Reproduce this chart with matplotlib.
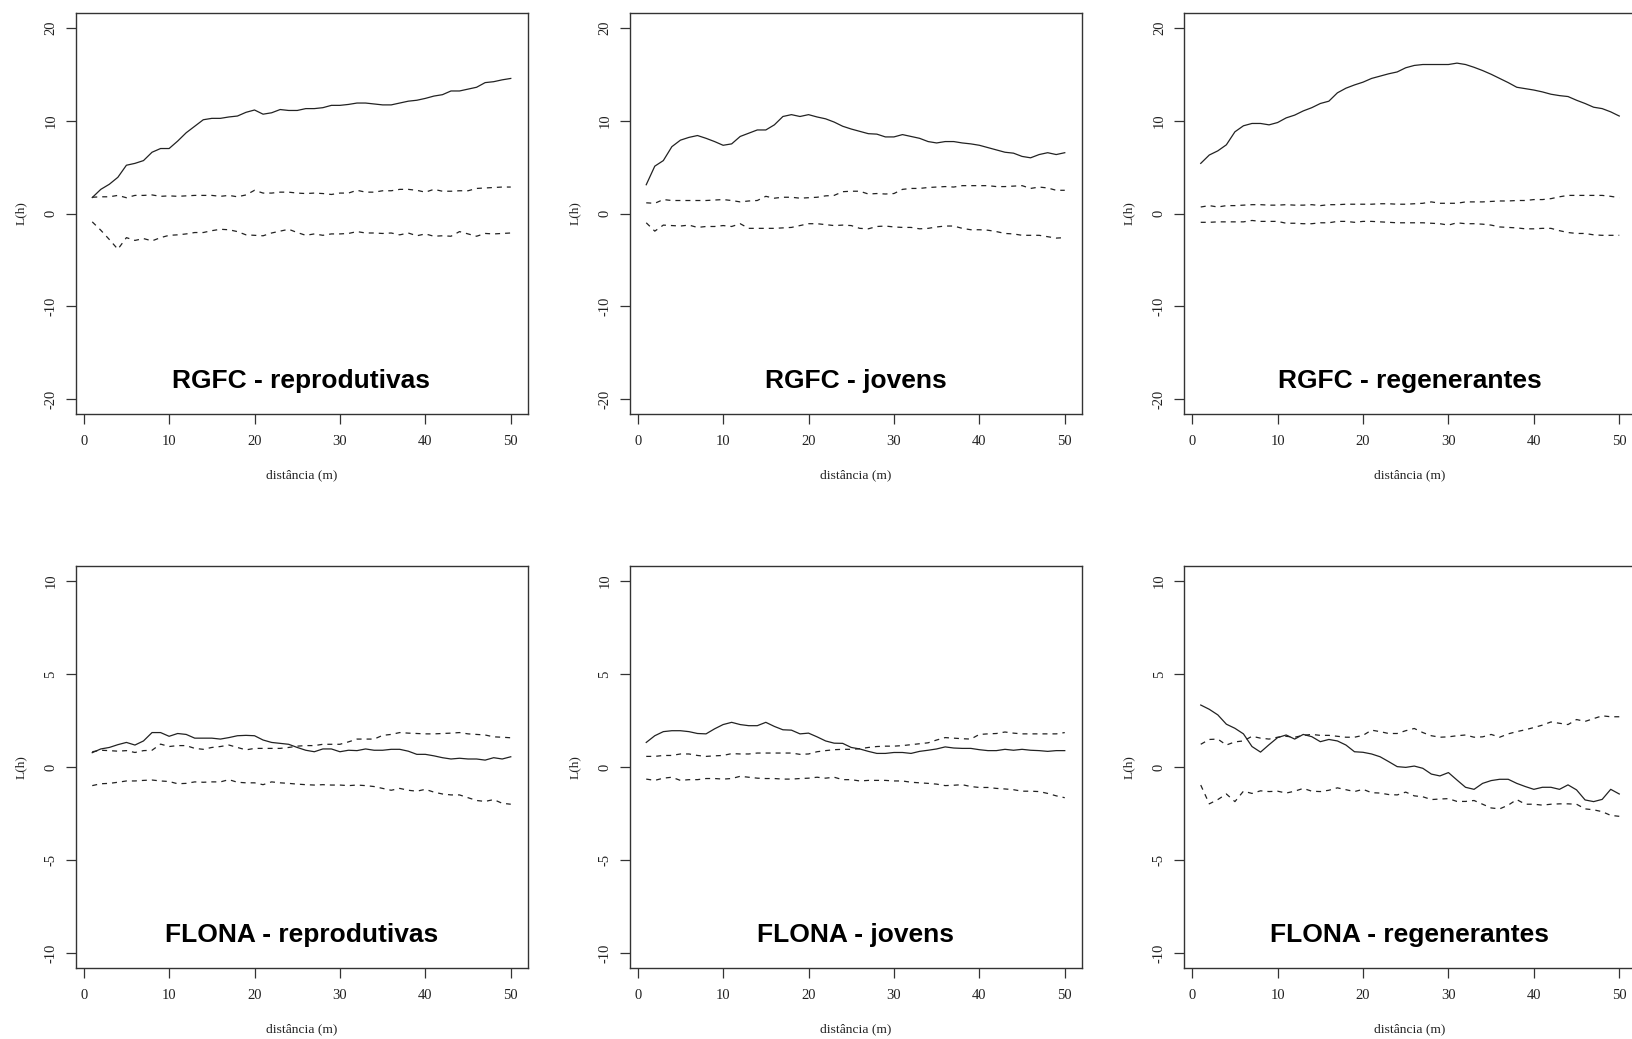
import numpy as np
import matplotlib
matplotlib.use("Agg")
import matplotlib.pyplot as plt

plt.rcParams["axes.unicode_minus"] = False

# distance (m)
dist = list(range(1, 51))

# RGFC - reprodutivas
rgfc_rep_obs = [1.72, 2.6, 3.15, 3.9, 5.2, 5.4, 5.7, 6.6, 7.0, 7.0,
                7.8, 8.7, 9.4, 10.1, 10.25, 10.25, 10.4, 10.5, 10.9, 11.15,
                10.7, 10.85, 11.2, 11.1, 11.1, 11.3, 11.3, 11.4, 11.65, 11.65,
                11.75, 11.9, 11.9, 11.8, 11.7, 11.7, 11.9, 12.1, 12.2, 12.4,
                12.65, 12.8, 13.2, 13.2, 13.4, 13.6, 14.1, 14.2, 14.4, 14.55]
rgfc_rep_hi = [1.75, 1.8, 1.8, 1.95, 1.7, 1.95, 1.95, 2.0, 1.85, 1.9,
               1.85, 1.9, 1.95, 1.95, 1.95, 1.85, 1.95, 1.8, 2.0, 2.5,
               2.2, 2.2, 2.3, 2.3, 2.2, 2.15, 2.2, 2.15, 2.05, 2.2,
               2.2, 2.5, 2.3, 2.3, 2.45, 2.45, 2.6, 2.6, 2.5, 2.3,
               2.6, 2.4, 2.4, 2.45, 2.45, 2.7, 2.75, 2.8, 2.85, 2.85]
rgfc_rep_lo = [-0.9, -1.8, -2.8, -3.85, -2.6, -2.9, -2.7, -2.95, -2.6, -2.35,
               -2.3, -2.2, -2.05, -2.05, -1.85, -1.7, -1.75, -1.95, -2.3, -2.35,
               -2.4, -2.1, -1.9, -1.7, -2.05, -2.35, -2.2, -2.35, -2.2, -2.2,
               -2.15, -1.95, -2.1, -2.1, -2.15, -2.1, -2.3, -2.1, -2.4, -2.2,
               -2.45, -2.4, -2.45, -1.95, -2.2, -2.45, -2.15, -2.2, -2.15, -2.1]

# RGFC - jovens
rgfc_jov_obs = [3.1, 5.1, 5.7, 7.2, 7.9, 8.2, 8.4, 8.1, 7.75, 7.35,
                7.5, 8.3, 8.65, 9.0, 9.0, 9.55, 10.45, 10.65, 10.45, 10.65,
                10.4, 10.2, 9.85, 9.4, 9.1, 8.85, 8.6, 8.55, 8.25, 8.25,
                8.5, 8.3, 8.1, 7.75, 7.6, 7.75, 7.75, 7.6, 7.5, 7.35,
                7.1, 6.85, 6.6, 6.5, 6.15, 6.0, 6.35, 6.55, 6.35, 6.55]
rgfc_jov_hi = [1.15, 1.1, 1.5, 1.4, 1.4, 1.4, 1.4, 1.4, 1.45, 1.5,
               1.4, 1.25, 1.35, 1.4, 1.85, 1.65, 1.75, 1.75, 1.65, 1.7,
               1.75, 1.9, 1.95, 2.35, 2.4, 2.4, 2.1, 2.15, 2.1, 2.15,
               2.6, 2.7, 2.7, 2.8, 2.85, 2.9, 2.85, 3.0, 3.0, 3.0,
               3.0, 2.9, 2.9, 2.95, 3.0, 2.7, 2.85, 2.75, 2.5, 2.5]
rgfc_jov_lo = [-1.0, -1.9, -1.25, -1.3, -1.35, -1.25, -1.5, -1.4, -1.4, -1.3,
               -1.4, -1.1, -1.6, -1.6, -1.6, -1.6, -1.55, -1.5, -1.3, -1.1,
               -1.1, -1.2, -1.3, -1.25, -1.3, -1.6, -1.65, -1.4, -1.35, -1.45,
               -1.5, -1.5, -1.65, -1.6, -1.45, -1.35, -1.35, -1.6, -1.75, -1.75,
               -1.8, -1.95, -2.15, -2.2, -2.35, -2.35, -2.35, -2.5, -2.65, -2.6]

# RGFC - regenerantes
rgfc_reg_obs = [5.4, 6.3, 6.75, 7.4, 8.8, 9.45, 9.7, 9.7, 9.55, 9.8,
                10.3, 10.6, 11.05, 11.4, 11.85, 12.1, 13.0, 13.5, 13.85, 14.15,
                14.55, 14.8, 15.05, 15.25, 15.7, 15.95, 16.05, 16.05, 16.05, 16.05,
                16.2, 16.05, 15.75, 15.4, 15.0, 14.55, 14.1, 13.6, 13.45, 13.3,
                13.1, 12.85, 12.7, 12.6, 12.2, 11.85, 11.45, 11.3, 10.95, 10.5]
rgfc_reg_hi = [0.7, 0.85, 0.7, 0.85, 0.85, 0.9, 0.95, 0.95, 0.9, 0.9,
               0.95, 0.9, 0.9, 0.95, 0.85, 0.95, 0.95, 1.0, 1.0, 1.0,
               1.0, 1.05, 1.05, 1.0, 1.0, 1.05, 1.1, 1.25, 1.1, 1.1,
               1.1, 1.25, 1.25, 1.25, 1.3, 1.35, 1.35, 1.4, 1.4, 1.5,
               1.5, 1.6, 1.8, 1.95, 1.95, 1.95, 1.95, 1.95, 1.85, 1.7]
rgfc_reg_lo = [-0.95, -0.95, -0.9, -0.9, -0.9, -0.9, -0.75, -0.85, -0.85, -0.85,
               -1.05, -1.05, -1.1, -1.1, -1.0, -1.0, -0.85, -0.85, -0.95, -0.85,
               -0.85, -0.9, -0.95, -1.0, -1.0, -1.0, -1.0, -1.05, -1.1, -1.25,
               -1.0, -1.1, -1.1, -1.15, -1.25, -1.45, -1.5, -1.55, -1.65, -1.65,
               -1.6, -1.6, -1.85, -2.05, -2.15, -2.15, -2.3, -2.35, -2.35, -2.35]

# FLONA - reprodutivas
flona_rep_obs = [0.77, 0.97, 1.05, 1.2, 1.32, 1.18, 1.4, 1.85, 1.85, 1.65,
                 1.8, 1.75, 1.55, 1.55, 1.55, 1.5, 1.58, 1.68, 1.7, 1.68,
                 1.45, 1.32, 1.27, 1.22, 1.05, 0.9, 0.82, 0.97, 0.97, 0.82,
                 0.9, 0.88, 0.97, 0.9, 0.9, 0.95, 0.95, 0.85, 0.68, 0.68,
                 0.6, 0.5, 0.43, 0.47, 0.43, 0.43, 0.37, 0.5, 0.43, 0.55]
flona_rep_hi = [0.82, 0.9, 0.88, 0.85, 0.88, 0.78, 0.88, 0.9, 1.23, 1.1,
                1.15, 1.15, 1.0, 0.95, 1.05, 1.1, 1.18, 1.05, 0.92, 1.0,
                1.0, 1.0, 1.0, 1.05, 1.12, 1.15, 1.15, 1.22, 1.22, 1.22,
                1.35, 1.5, 1.5, 1.5, 1.7, 1.75, 1.85, 1.82, 1.8, 1.78,
                1.78, 1.8, 1.82, 1.85, 1.78, 1.75, 1.72, 1.62, 1.6, 1.57]
flona_rep_lo = [-1.0, -0.9, -0.88, -0.82, -0.75, -0.75, -0.72, -0.7, -0.75, -0.78,
                -0.9, -0.88, -0.8, -0.82, -0.8, -0.8, -0.68, -0.82, -0.85, -0.85,
                -0.95, -0.8, -0.85, -0.88, -0.92, -0.95, -0.97, -0.95, -0.97, -0.97,
                -1.0, -0.97, -1.0, -1.05, -1.15, -1.25, -1.15, -1.25, -1.3, -1.2,
                -1.35, -1.45, -1.5, -1.5, -1.65, -1.8, -1.85, -1.75, -1.95, -2.0]

# FLONA - jovens
flona_jov_obs = [1.32, 1.68, 1.9, 1.95, 1.95, 1.9, 1.8, 1.78, 2.05, 2.28,
                 2.4, 2.28, 2.22, 2.22, 2.4, 2.18, 2.0, 1.98, 1.78, 1.82,
                 1.62, 1.4, 1.28, 1.27, 1.05, 0.97, 0.84, 0.73, 0.73, 0.78,
                 0.78, 0.73, 0.84, 0.9, 0.97, 1.08, 1.02, 1.0, 1.0, 0.93,
                 0.88, 0.88, 0.95, 0.9, 0.95, 0.9, 0.88, 0.84, 0.88, 0.88]
flona_jov_hi = [0.57, 0.57, 0.62, 0.62, 0.7, 0.7, 0.62, 0.57, 0.6, 0.62,
                0.72, 0.7, 0.7, 0.75, 0.75, 0.75, 0.75, 0.75, 0.68, 0.7,
                0.82, 0.88, 0.93, 0.95, 0.95, 0.98, 1.05, 1.1, 1.12, 1.12,
                1.15, 1.2, 1.25, 1.3, 1.45, 1.58, 1.55, 1.52, 1.5, 1.75,
                1.78, 1.8, 1.88, 1.82, 1.78, 1.78, 1.78, 1.78, 1.78, 1.85]
flona_jov_lo = [-0.65, -0.72, -0.6, -0.55, -0.72, -0.68, -0.68, -0.62, -0.62, -0.65,
                -0.62, -0.5, -0.55, -0.6, -0.62, -0.62, -0.65, -0.65, -0.62, -0.6,
                -0.55, -0.6, -0.55, -0.68, -0.68, -0.75, -0.72, -0.72, -0.72, -0.75,
                -0.75, -0.82, -0.85, -0.88, -0.92, -1.0, -0.98, -0.95, -1.05, -1.1,
                -1.1, -1.15, -1.18, -1.22, -1.3, -1.3, -1.32, -1.42, -1.55, -1.65]

# FLONA - regenerantes
flona_reg_obs = [3.33, 3.1, 2.8, 2.3, 2.08, 1.78, 1.1, 0.8, 1.2, 1.58,
                 1.72, 1.5, 1.75, 1.63, 1.36, 1.48, 1.4, 1.18, 0.82, 0.79,
                 0.7, 0.55, 0.29, 0.02, -0.02, 0.05, -0.07, -0.38, -0.48, -0.3,
                 -0.7, -1.09, -1.2, -0.88, -0.73, -0.66, -0.66, -0.88, -1.05, -1.2,
                 -1.09, -1.09, -1.2, -0.96, -1.23, -1.77, -1.86, -1.74, -1.2, -1.45]
flona_reg_hi = [1.22, 1.48, 1.5, 1.18, 1.35, 1.4, 1.65, 1.55, 1.5, 1.6,
                1.65, 1.6, 1.7, 1.75, 1.7, 1.7, 1.65, 1.6, 1.6, 1.7,
                1.98, 1.9, 1.8, 1.8, 1.95, 2.07, 1.85, 1.68, 1.6, 1.62,
                1.68, 1.72, 1.6, 1.62, 1.75, 1.6, 1.78, 1.9, 2.0, 2.12,
                2.25, 2.42, 2.35, 2.28, 2.55, 2.45, 2.6, 2.75, 2.7, 2.7]
flona_reg_lo = [-0.97, -1.98, -1.75, -1.45, -1.86, -1.3, -1.42, -1.28, -1.32, -1.3,
                -1.4, -1.3, -1.15, -1.3, -1.32, -1.25, -1.12, -1.22, -1.32, -1.2,
                -1.38, -1.4, -1.48, -1.5, -1.35, -1.55, -1.6, -1.75, -1.72, -1.7,
                -1.85, -1.85, -1.8, -2.0, -2.2, -2.25, -2.05, -1.75, -2.0, -2.0,
                -2.05, -2.0, -1.98, -1.98, -2.0, -2.25, -2.3, -2.4, -2.6, -2.65]

titles = ["RGFC - reprodutivas", "RGFC - jovens", "RGFC - regenerantes",
          "FLONA - reprodutivas", "FLONA - jovens", "FLONA - regenerantes"]
series = [
    (rgfc_rep_obs, rgfc_rep_hi, rgfc_rep_lo),
    (rgfc_jov_obs, rgfc_jov_hi, rgfc_jov_lo),
    (rgfc_reg_obs, rgfc_reg_hi, rgfc_reg_lo),
    (flona_rep_obs, flona_rep_hi, flona_rep_lo),
    (flona_jov_obs, flona_jov_hi, flona_jov_lo),
    (flona_reg_obs, flona_reg_hi, flona_reg_lo),
]

W, H = 1632, 1039
fig = plt.figure(figsize=(W / 100, H / 100), dpi=100)

# panel boxes in pixels: left, width / top, height
col_box = [(75.5, 452), (629.5, 452), (1184, 452)]
row_box = [(13, 401), (566, 402)]

serif = "Liberation Serif"
line_col = "#222222"

for i, (title, (obs, hi, lo)) in enumerate(zip(titles, series)):
    r, c = divmod(i, 3)
    left, w = col_box[c]
    top, h = row_box[r]
    ax = fig.add_axes([left / W, 1 - (top + h) / H, w / W, h / H])

    ax.plot(dist, obs, color=line_col, lw=0.9)
    ax.plot(dist, hi, color=line_col, lw=0.9, ls=(0, (4, 4)))
    ax.plot(dist, lo, color=line_col, lw=0.9, ls=(0, (4, 4)))

    ax.set_xlim(-0.96, 51.96)
    if r == 0:
        ax.set_ylim(-21.6, 21.6)
        ax.set_yticks([-20, -10, 0, 10, 20])
        ty = -18.8
    else:
        ax.set_ylim(-10.8, 10.8)
        ax.set_yticks([-10, -5, 0, 5, 10])
        ty = -9.4
    ax.set_xticks([0, 10, 20, 30, 40, 50])

    ax.text(25.5, ty, title, ha="center", va="baseline", fontsize=19,
            fontweight="bold", family="Liberation Sans", color="black")

    for s in ax.spines.values():
        s.set_color("#333333")
        s.set_linewidth(1.0)
    ax.tick_params(direction="out", length=7, width=0.9, color="#333333",
                   labelsize=10.5, labelcolor="#222222")
    ax.tick_params(axis="x", pad=8)
    ax.tick_params(axis="y", pad=6)
    for lab in ax.get_yticklabels():
        lab.set_rotation(90)
        lab.set_va("center")
        lab.set_family(serif)
    for lab in ax.get_xticklabels():
        lab.set_family(serif)

    ax.set_xlabel("distância (m)", fontsize=9.7, family=serif, color="#222222")
    ax.set_ylabel("L(h)", fontsize=9.7, family=serif, color="#222222")
    ax.xaxis.set_label_coords(0.5, -55 / h, transform=ax.transAxes)
    ax.yaxis.set_label_coords(-49 / w, 0.5, transform=ax.transAxes)

fig.savefig("out.png", dpi=100)
